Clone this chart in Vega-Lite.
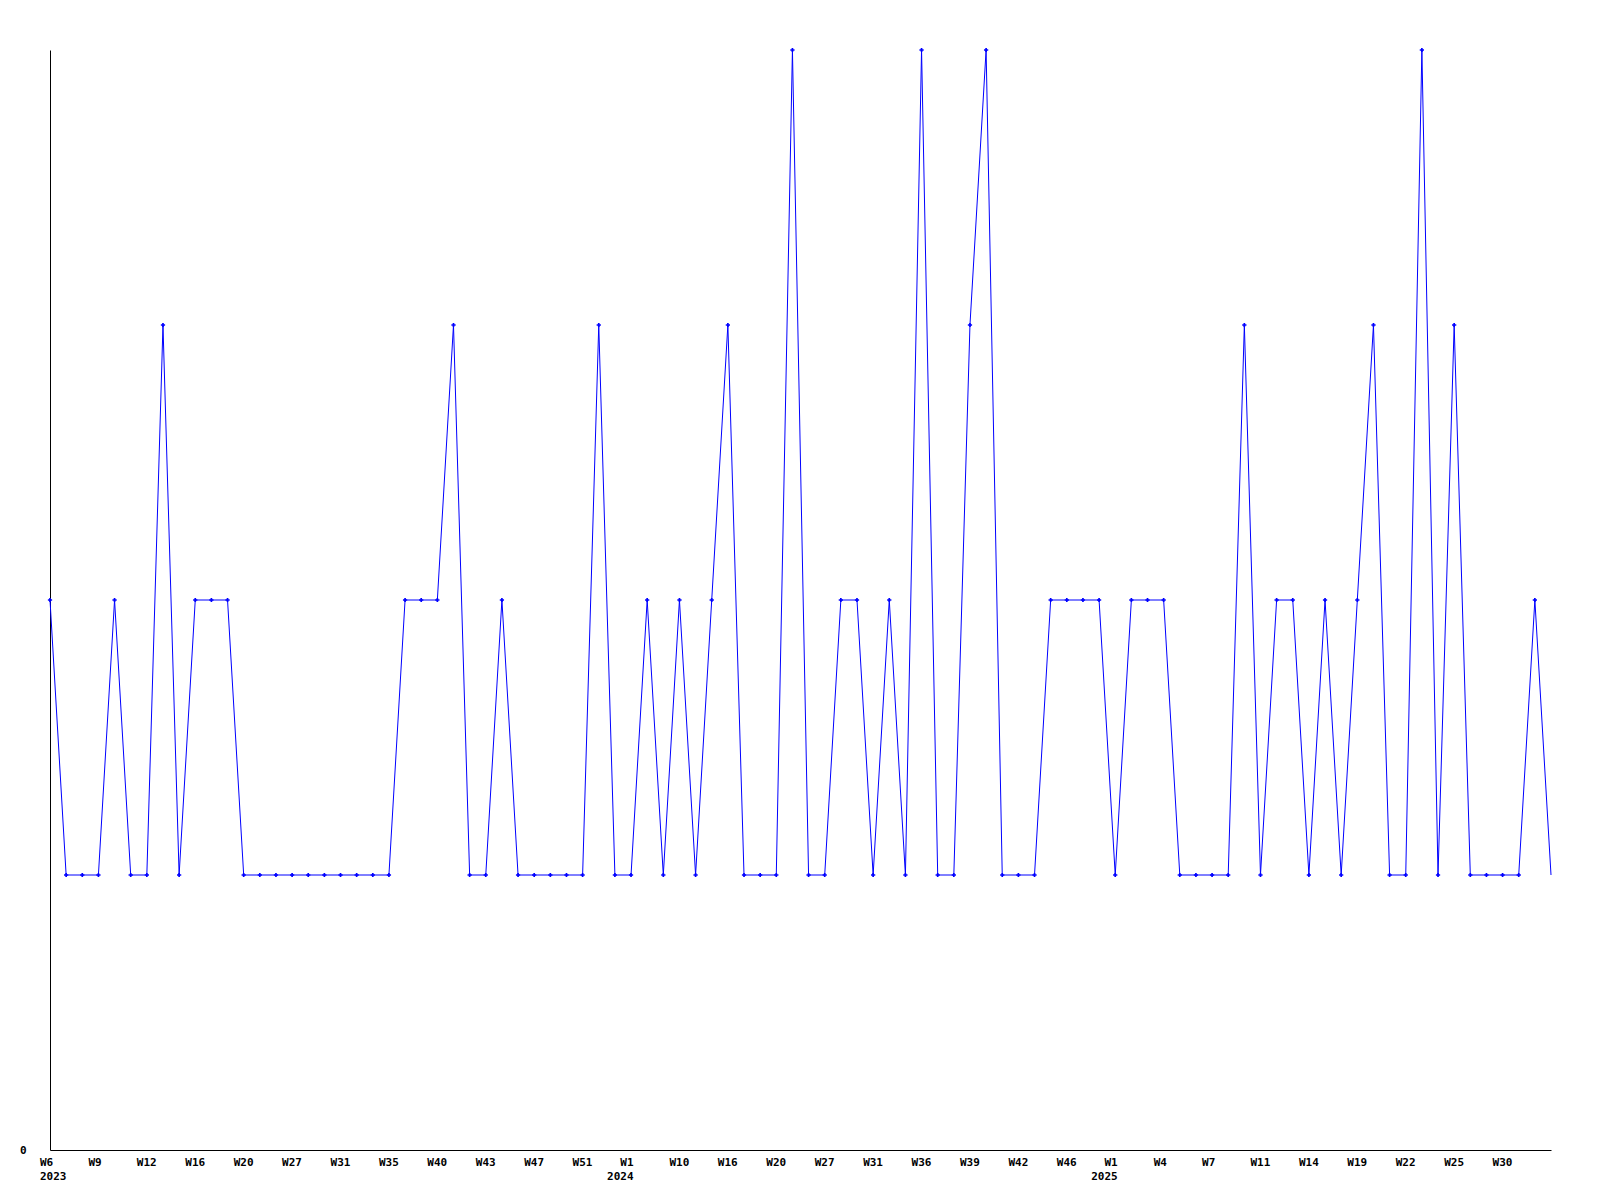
{
  "$schema": "https://vega.github.io/schema/vega-lite/v6.json",
  "autosize": "none",
  "padding": {"left": 50, "top": 50, "right": 49, "bottom": 50},
  "width": 1501,
  "height": 1100,
  "background": "white",
  "view": {"stroke": null},
  "config": {
    "axis": {"labelFont": "DejaVu Sans Mono", "labelFontWeight": "bold", "labelFontSize": 11, "labelColor": "black", "domainColor": "black", "domainWidth": 1, "ticks": false, "grid": false, "title": null}
  },
  "data": {"values": [
    {"i":0,"v":2},{"i":1,"v":1},{"i":2,"v":1},{"i":3,"v":1},{"i":4,"v":2},{"i":5,"v":1},{"i":6,"v":1},{"i":7,"v":3},{"i":8,"v":1},{"i":9,"v":2},
    {"i":10,"v":2},{"i":11,"v":2},{"i":12,"v":1},{"i":13,"v":1},{"i":14,"v":1},{"i":15,"v":1},{"i":16,"v":1},{"i":17,"v":1},{"i":18,"v":1},{"i":19,"v":1},
    {"i":20,"v":1},{"i":21,"v":1},{"i":22,"v":2},{"i":23,"v":2},{"i":24,"v":2},{"i":25,"v":3},{"i":26,"v":1},{"i":27,"v":1},{"i":28,"v":2},{"i":29,"v":1},
    {"i":30,"v":1},{"i":31,"v":1},{"i":32,"v":1},{"i":33,"v":1},{"i":34,"v":3},{"i":35,"v":1},{"i":36,"v":1},{"i":37,"v":2},{"i":38,"v":1},{"i":39,"v":2},
    {"i":40,"v":1},{"i":41,"v":2},{"i":42,"v":3},{"i":43,"v":1},{"i":44,"v":1},{"i":45,"v":1},{"i":46,"v":4},{"i":47,"v":1},{"i":48,"v":1},{"i":49,"v":2},
    {"i":50,"v":2},{"i":51,"v":1},{"i":52,"v":2},{"i":53,"v":1},{"i":54,"v":4},{"i":55,"v":1},{"i":56,"v":1},{"i":57,"v":3},{"i":58,"v":4},{"i":59,"v":1},
    {"i":60,"v":1},{"i":61,"v":1},{"i":62,"v":2},{"i":63,"v":2},{"i":64,"v":2},{"i":65,"v":2},{"i":66,"v":1},{"i":67,"v":2},{"i":68,"v":2},{"i":69,"v":2},
    {"i":70,"v":1},{"i":71,"v":1},{"i":72,"v":1},{"i":73,"v":1},{"i":74,"v":3},{"i":75,"v":1},{"i":76,"v":2},{"i":77,"v":2},{"i":78,"v":1},{"i":79,"v":2},
    {"i":80,"v":1},{"i":81,"v":2},{"i":82,"v":3},{"i":83,"v":1},{"i":84,"v":1},{"i":85,"v":4},{"i":86,"v":1},{"i":87,"v":3},{"i":88,"v":1},{"i":89,"v":1},
    {"i":90,"v":1},{"i":91,"v":1},{"i":92,"v":2},{"i":93,"v":1}
  ]},
  "encoding": {
    "x": {"field": "i", "type": "quantitative", "scale": {"domain": [0, 93], "nice": false, "zero": false},
      "axis": {
        "values": [0,3,6,9,12,15,18,21,24,27,30,33,36,39,42,45,48,51,54,57,60,63,66,69,72,75,78,81,84,87,90],
        "labelExpr": "datum.value == 0 ? ['W6','2023'] : datum.value == 36 ? ['W1','2024'] : datum.value == 66 ? ['W1','2025'] : ['W6','W9','W12','W16','W20','W27','W31','W35','W40','W43','W47','W51','W1','W10','W16','W20','W27','W31','W36','W39','W42','W46','W1','W4','W7','W11','W14','W19','W22','W25','W30'][datum.value / 3]",
        "labelAlign": {"condition": {"test": "datum.value == 36 || datum.value == 66", "value": "right"}, "value": "left"},
        "labelOffset": {"condition": {"test": "datum.value == 36 || datum.value == 66", "value": 2}, "value": -10.5},
        "labelBaseline": "top",
        "labelPadding": 6,
        "labelLineHeight": 14.5,
        "labelOverlap": false,
        "labelFlush": false
      }},
    "y": {"field": "v", "type": "quantitative", "scale": {"domain": [0, 4], "nice": false},
      "axis": {"values": [0], "labelPadding": 24, "labelBaseline": "middle"}}
  },
  "layer": [
    {"mark": {"type": "line", "color": "#0000FF", "strokeWidth": 1}},
    {"transform": [{"filter": "datum.i < 93"}],
     "mark": {"type": "point", "shape": "cross", "size": 18, "filled": true, "color": "#0000FF", "opacity": 1}}
  ]
}
